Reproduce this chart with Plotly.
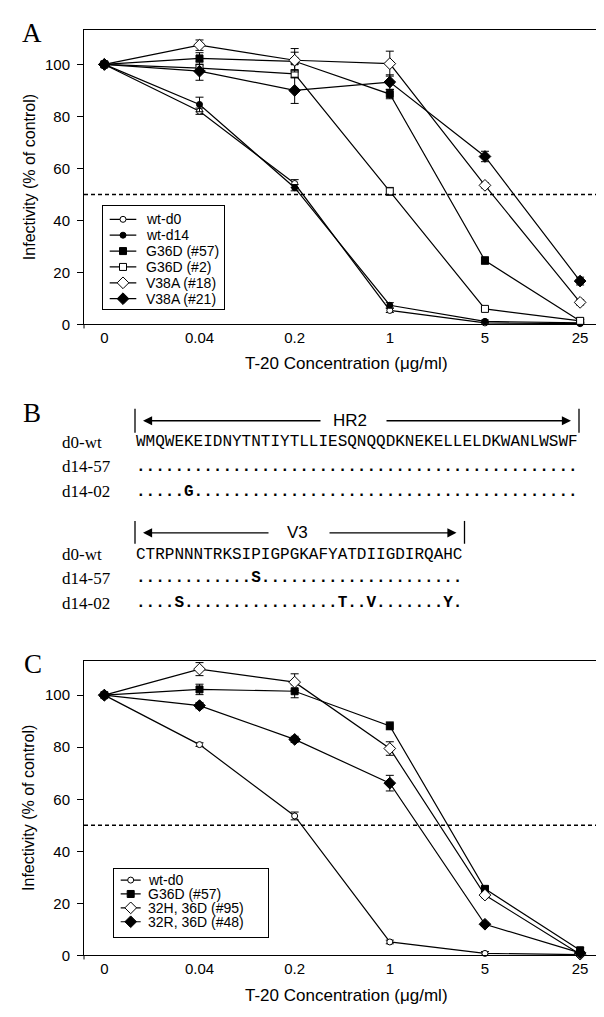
import plotly.graph_objects as go

W, H = 604, 1017

# ---------------- data ----------------
conc = ["0", "0.04", "0.2", "1", "5", "25"]

a_names = ["wt-d0", "wt-d14", "G36D (#57)", "G36D (#2)", "V38A (#18)", "V38A (#21)"]
a_wt_d0 = [100, 82.0, 54.2, 5.4, 0.6, 0.3]
a_wt_d14 = [100, 84.6, 52.6, 7.4, 1.2, 0.6]
a_g36d_57 = [100, 102.3, 101.2, 88.6, 24.6, 1.3]
a_g36d_2 = [100, 98.6, 96.4, 51.2, 6.0, 1.4]
a_v38a_18 = [100, 107.4, 101.6, 100.3, 53.5, 8.5]
a_v38a_21 = [100, 97.4, 90.0, 93.2, 64.6, 16.7]
a_wt_d0_err = [0.4, 1.2, 1.5, 0.8, 0.4, 0.2]
a_wt_d14_err = [0.4, 2.8, 1.2, 1.0, 0.5, 0.3]
a_g36d_57_err = [0.4, 2.2, 3.5, 1.8, 1.4, 0.6]
a_g36d_2_err = [0.4, 1.2, 1.6, 1.5, 0.7, 0.5]
a_v38a_18_err = [0.4, 2.0, 4.5, 4.8, 1.0, 1.0]
a_v38a_21_err = [0.4, 3.5, 5.0, 2.8, 2.0, 1.5]

c_names = ["wt-d0", "G36D (#57)", "32H, 36D (#95)", "32R, 36D (#48)"]
c_wt_d0 = [100, 81.0, 53.6, 5.2, 0.8, 0.3]
c_g36d_57 = [100, 102.2, 101.5, 88.2, 25.6, 2.0]
c_32h_36d = [100, 110.0, 105.0, 79.5, 23.2, 0.5]
c_32r_36d = [100, 96.0, 83.0, 66.2, 12.0, 1.0]
c_wt_d0_err = [0.4, 0.7, 1.5, 0.7, 0.7, 0.2]
c_g36d_57_err = [0.4, 2.0, 2.5, 1.5, 1.0, 1.0]
c_32h_36d_err = [0.4, 2.5, 3.2, 2.6, 1.0, 0.4]
c_32r_36d_err = [0.4, 1.2, 1.2, 3.0, 0.7, 0.5]

cutoff = 50
y_ticks = [0, 20, 40, 60, 80, 100]

hr2_wt = "WMQWEKEIDNYTNTIYTLLIESQNQQDKNEKELLELDKWANLWSWF"
hr2_d14_57 = {}
hr2_d14_02 = {5: "G"}
v3_wt = "CTRPNNNTRKSIPIGPGKAFYATDIIGDIRQAHC"
v3_d14_57 = {12: "S"}
v3_d14_02 = {4: "S", 21: "T", 24: "V", 32: "Y"}

# ---------------- styles ----------------
a_values = [a_wt_d0, a_wt_d14, a_g36d_57, a_g36d_2, a_v38a_18, a_v38a_21]
a_errors = [a_wt_d0_err, a_wt_d14_err, a_g36d_57_err, a_g36d_2_err, a_v38a_18_err, a_v38a_21_err]
a_symbols = ["circle", "circle", "square", "square", "diamond", "diamond"]
a_filled = [False, True, True, False, False, True]
a_sizes = [6, 6, 7, 7, 9, 9]

c_values = [c_wt_d0, c_g36d_57, c_32h_36d, c_32r_36d]
c_errors = [c_wt_d0_err, c_g36d_57_err, c_32h_36d_err, c_32r_36d_err]
c_symbols = ["circle", "square", "diamond", "diamond"]
c_filled = [False, True, False, True]
c_sizes = [6, 7, 9, 9]

SANS = "Liberation Sans, Arial, sans-serif"
SERIF = "Liberation Serif, Times New Roman, serif"
MONO = "Liberation Mono, Courier New, monospace"


def px_x(p):
    return p / W


def px_y(p):
    return 1 - p / H


fig = go.Figure()


def add_series(values, errors, symbols, filled, sizes, xa, ya):
    for v, e, s, f, sz in zip(values, errors, symbols, filled, sizes):
        fig.add_trace(go.Scatter(
            x=conc, y=v, mode="lines+markers", xaxis=xa, yaxis=ya,
            line=dict(color="black", width=1.2),
            marker=dict(symbol=s, size=sz, color="black" if f else "white",
                        line=dict(color="black", width=1)),
            error_y=dict(type="data", array=e, color="black", thickness=1, width=4),
            cliponaxis=False, showlegend=False, hoverinfo="skip"))


add_series(a_values, a_errors, a_symbols, a_filled, a_sizes, "x", "y")
add_series(c_values, c_errors, c_symbols, c_filled, c_sizes, "x2", "y2")

annotations = []


def ann(**kw):
    d = dict(showarrow=False, xanchor="center", yanchor="middle")
    d.update(kw)
    annotations.append(d)


def add_legend(names, symbols, filled, sizes, xa, ya, y0, dy, lx0, lx1, mx, tx):
    for i, (n, s, f, sz) in enumerate(zip(names, symbols, filled, sizes)):
        yy = y0 + dy * i
        fig.add_trace(go.Scatter(x=[lx0, lx1], y=[yy, yy], mode="lines", xaxis=xa, yaxis=ya,
                                 line=dict(color="black", width=1.2), showlegend=False,
                                 hoverinfo="skip"))
        fig.add_trace(go.Scatter(x=[mx], y=[yy], mode="markers", xaxis=xa, yaxis=ya,
                                 marker=dict(symbol=s, size=sz, color="black" if f else "white",
                                             line=dict(color="black", width=1)),
                                 showlegend=False, hoverinfo="skip"))
        ann(x=tx, y=yy, xref=xa, yref=ya, text=n, xanchor="left",
            font=dict(family=SANS, size=14, color="black"))


# legend boxes (pixel-sized axes)
LA = dict(l=95, r=216, t=200, b=303)
LC = dict(l=106, r=260, t=868, b=936)
add_legend(a_names, a_symbols, a_filled, a_sizes, "x3", "y3", 13, 16, 6.7, 33.3, 20, 41)
add_legend(c_names, c_symbols, c_filled, c_sizes, "x4", "y4", 11, 14, 6.7, 26.7, 16.7, 32)

main_x = dict(type="category", categoryorder="array", categoryarray=conc,
              range=[-0.214, 5.167], showline=True, mirror=True, linecolor="black",
              linewidth=1, ticks="", showgrid=False, zeroline=False,
              tickfont=dict(family=SANS, size=15, color="black"), fixedrange=True)
main_y = dict(range=[0, 113.3], tickvals=y_ticks, ticks="outside", ticklen=6,
              tickcolor="black", tickwidth=1, showline=True, mirror=True, linecolor="black",
              linewidth=1, showgrid=False, zeroline=False, ticklabelstandoff=4,
              tickfont=dict(family=SANS, size=15, color="black"), fixedrange=True)
box_ax = dict(showline=True, mirror=True, linecolor="black", linewidth=1, ticks="",
              showticklabels=False, showgrid=False, zeroline=False, fixedrange=True)

PX_L, PX_R = 76, 588
A_T, A_B = 22, 319
C_T, C_B = 657.7, 955

layout = dict(
    width=W, height=H, margin=dict(l=0, r=0, t=0, b=0),
    paper_bgcolor="white", plot_bgcolor="rgba(0,0,0,0)", showlegend=False,
    font=dict(family=SANS, color="black", size=14),
    xaxis=dict(main_x, domain=[px_x(PX_L), px_x(PX_R)], anchor="y"),
    yaxis=dict(main_y, domain=[px_y(A_B), px_y(A_T)], anchor="x"),
    xaxis2=dict(main_x, domain=[px_x(PX_L), px_x(PX_R)], anchor="y2"),
    yaxis2=dict(main_y, domain=[px_y(C_B), px_y(C_T)], anchor="x2"),
    xaxis3=dict(box_ax, domain=[px_x(LA["l"]), px_x(LA["r"])], anchor="y3",
                range=[0, LA["r"] - LA["l"]]),
    yaxis3=dict(box_ax, domain=[px_y(LA["b"]), px_y(LA["t"])], anchor="x3",
                range=[LA["b"] - LA["t"], 0]),
    xaxis4=dict(box_ax, domain=[px_x(LC["l"]), px_x(LC["r"])], anchor="y4",
                range=[0, LC["r"] - LC["l"]]),
    yaxis4=dict(box_ax, domain=[px_y(LC["b"]), px_y(LC["t"])], anchor="x4",
                range=[LC["b"] - LC["t"], 0]),
)

shapes = []
# 50% cutoff dashed lines
for xa, ya in (("x", "y"), ("x2", "y2")):
    shapes.append(dict(type="line", xref=xa + " domain", yref=ya, x0=0, x1=1,
                       y0=cutoff, y1=cutoff, line=dict(color="black", width=1.5, dash="4px,3px")))

# small axis overhang at the lower-left corner of each plot box
for yb in (A_B, C_B):
    shapes.append(dict(type="line", xref="paper", yref="paper", x0=px_x(PX_L - 4), x1=px_x(PX_L),
                       y0=px_y(yb), y1=px_y(yb), line=dict(color="black", width=1)))
    shapes.append(dict(type="line", xref="paper", yref="paper", x0=px_x(PX_L), x1=px_x(PX_L),
                       y0=px_y(yb), y1=px_y(yb + 4), line=dict(color="black", width=1)))

# axis titles and panel letters
for ytitle_c, xt_y in ((170.5, 358), (806.3, 995)):
    ann(x=px_x(21), y=px_y(ytitle_c), xref="paper", yref="paper",
        text="Infectivity (% of control)", textangle=-90,
        font=dict(family=SANS, size=16, color="black"))
    ann(x=px_x(338), y=px_y(xt_y), xref="paper", yref="paper",
        text="T-20 Concentration (\u03bcg/ml)",
        font=dict(family=SANS, size=17, color="black"))
for letter, lx, ly in (("A", 24, 25), ("B", 24, 408), ("C", 25, 661)):
    ann(x=px_x(lx), y=px_y(ly), xref="paper", yref="paper", text=letter,
        font=dict(family=SERIF, size=27, color="black"))

# ---------------- panel B: sequences ----------------
SEQ_X = 126
LAB_X = 52


def mutant_text(wt, muts):
    return "<b>" + "".join(muts.get(i, ".") for i in range(len(wt))) + "</b>"


def bracket(x0, x1, ybar0, ybar1, yarr, label, lab_c, gap0, gap1):
    for xx in (x0, x1):
        shapes.append(dict(type="line", xref="paper", yref="paper", x0=px_x(xx), x1=px_x(xx),
                           y0=px_y(ybar0), y1=px_y(ybar1), line=dict(color="black", width=1.3)))
    for head, tail in ((x0 + 8, gap0), (x1 - 8, gap1)):
        annotations.append(dict(x=px_x(head), y=px_y(yarr), xref="paper", yref="paper",
                                ax=tail - head, ay=0, axref="pixel", ayref="pixel", text="",
                                showarrow=True, arrowhead=2, arrowsize=1.3, arrowwidth=1.4,
                                arrowcolor="black", standoff=0, startstandoff=0))
    ann(x=px_x(lab_c), y=px_y(yarr), xref="paper", yref="paper", text=label,
        font=dict(family=SANS, size=17, color="black"))


bracket(127, 571, 404, 428, 416, "HR2", 342, 314, 377)
bracket(127, 456.5, 517, 540, 529, "V3", 289, 262, 320)

seq_rows = [
    ("d0-wt", hr2_wt, 437.5),
    ("d14-57", mutant_text(hr2_wt, hr2_d14_57), 462.5),
    ("d14-02", mutant_text(hr2_wt, hr2_d14_02), 487.5),
    ("d0-wt", v3_wt, 551),
    ("d14-57", mutant_text(v3_wt, v3_d14_57), 575),
    ("d14-02", mutant_text(v3_wt, v3_d14_02), 600),
]
for lab, txt, yy in seq_rows:
    ann(x=px_x(LAB_X), y=px_y(yy), xref="paper", yref="paper", text=lab, xanchor="left",
        font=dict(family=SERIF, size=17, color="black"))
    ann(x=px_x(SEQ_X), y=px_y(yy), xref="paper", yref="paper", text=txt, xanchor="left",
        font=dict(family=MONO, size=16, color="black"))

layout["shapes"] = shapes
layout["annotations"] = annotations
fig.update_layout(**layout)
fig.write_html("out.html")
